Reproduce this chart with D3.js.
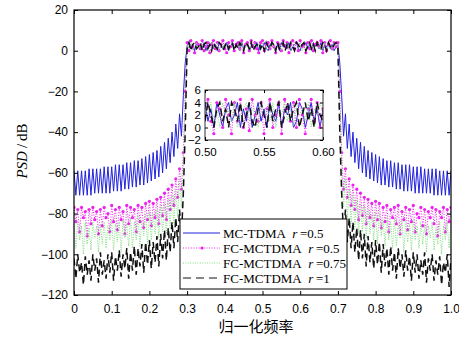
<!DOCTYPE html>
<html>
<head>
<meta charset="utf-8">
<script src="https://cdn.jsdelivr.net/npm/d3@7"></script>
<style>
  html, body { margin: 0; padding: 0; background: #fff; }
  svg { display: block; font-family: "Liberation Serif", "Times New Roman", serif; }
</style>
</head>
<body>
<svg id="chart" width="459" height="338"></svg>
<script>
// normalized frequency grid: 0 .. 1 sampled every 0.005 (201 points)
const freqStep = 0.005;
const xTicks = [0, 0.1, 0.2, 0.3, 0.4, 0.5, 0.6, 0.7, 0.8, 0.9, 1.0];
const xTickLabels = ["0", "0.1", "0.2", "0.3", "0.4", "0.5", "0.6", "0.7", "0.8", "0.9", "1.0"];
const yTicks = [20, 0, -20, -40, -60, -80, -100, -120];
const yTickLabels = ["20", "0", "\u221220", "\u221240", "\u221260", "\u221280", "\u2212100", "\u2212120"];

// zoomed inset: 0.50 .. 0.60 sampled every 0.0025 (41 points)
const insetStart = 0.5;
const insetStep = 0.0025;
const insetXTicks = [0.5, 0.55, 0.6];
const insetXTickLabels = ["0.50", "0.55", "0.60"];
const insetYTicks = [6, 4, 2, 0, -2];
const insetYTickLabels = ["6", "4", "2", "0", "\u22122"];

const legendNames = ["MC-TDMA", "FC-MCTDMA", "FC-MCTDMA", "FC-MCTDMA"];
const legendR = ["0.5", "0.5", "0.75", "1"];

// PSD (dB) of MC-TDMA r=0.5
const psdMc05 = [
  -59,-71,-59,-71,-59,-71,-59,-71,-58,-71,
  -58,-70,-58,-70,-58,-70,-57,-70,-57,-70,
  -57,-69,-56,-69,-56,-69,-56,-68,-55,-68,
  -55,-67,-54,-67,-54,-66,-53,-66,-52,-65,
  -51,-64,-50,-63,-49,-62,-47,-60,-45,-58,
  -43,-55,-40,-52,-36,-48,-31,-42,-22,-6,
  2,4,1,3,0,4,2,3,1,4, 0,3,2,4,1,3,0,4,2,1,
  3,4,0,2,4,1,3,2,0,4, 1,3,4,0,2,3,1,4,0,3,
  2,4,1,0,3,4,2,1,3,0, 4,2,3,1,4,0,2,3,4,1,
  0,3,2,4,1,3,0,4,2,3, 1,4,0,3,2,4,1,3,0,2, 3,
  -6,-22,-42,-31,-48,-36,-52,-40,-55,-43,-58,
  -45,-60,-47,-62,-49,-63,-50,-64,-51,-65,
  -52,-66,-53,-66,-54,-67,-54,-67,-55,-68,
  -55,-68,-56,-69,-56,-69,-56,-69,-57,-70,
  -57,-70,-57,-70,-58,-70,-58,-70,-58,-71,
  -58,-71,-59,-71,-59,-71,-59,-71,-59
];

// PSD (dB) of FC-MCTDMA r=0.5
const psdFc05 = [
  -77,-84,-78,-89,-77,-82,-79,-91,-78,-85,
  -77,-83,-79,-90,-78,-86,-77,-82,-80,-89,
  -76,-84,-78,-88,-77,-83,-79,-90,-76,-85,
  -77,-82,-78,-89,-76,-84,-77,-87,-75,-83,
  -74,-86,-75,-82,-73,-85,-72,-81,-70,-83,
  -68,-78,-66,-76,-63,-72,-58,-68,-50,-20,
  4,0,5,2,-1,4,3,1,5,0, 2,4,-1,3,5,1,4,0,3,5,
  1,-1,4,2,5,0,3,4,1,5, -1,3,4,0,5,2,4,1,-1,4,
  5,0,3,4,1,5,2,-1,4,3, 0,5,2,4,-1,3,5,1,4,0,
  5,2,3,-1,4,1,5,0,3,4, 2,5,-1,4,0,3,5,1,4,2, 4,
  -20,-50,-68,-58,-72,-63,-76,-66,-78,-68,-83,
  -70,-81,-72,-85,-73,-82,-75,-86,-74,-83,
  -75,-87,-77,-84,-76,-89,-78,-82,-77,-85,
  -76,-90,-79,-83,-77,-88,-78,-84,-76,-89,
  -80,-82,-77,-86,-78,-90,-79,-82,-77,-85,
  -78,-91,-79,-82,-77,-89,-78,-84,-77
];

// PSD (dB) of FC-MCTDMA r=0.75
const psdFc075 = [
  -85,-97,-84,-93,-86,-100,-84,-95,-87,-98,
  -84,-92,-86,-99,-85,-95,-84,-97,-86,-93,
  -83,-98,-85,-94,-84,-99,-83,-92,-85,-96,
  -82,-97,-84,-93,-81,-96,-83,-91,-80,-95,
  -79,-93,-80,-90,-78,-92,-76,-89,-75,-90,
  -73,-87,-71,-85,-68,-82,-63,-77,-55,-25,
  3,1,4,0,2,4,1,3,0,4, 2,0,3,4,1,2,4,0,3,1,
  4,2,0,3,4,1,2,3,0,4, 1,4,2,0,3,1,4,2,3,0,
  4,1,3,2,0,4,1,3,2,4, 0,3,1,4,2,0,3,4,1,2,
  4,0,2,3,1,4,0,3,2,4, 1,3,0,4,2,1,3,0,4,2, 3,
  -25,-55,-77,-63,-82,-68,-85,-71,-87,-73,-90,
  -75,-89,-76,-92,-78,-90,-80,-93,-79,-95,
  -80,-91,-83,-96,-81,-93,-84,-97,-82,-96,
  -85,-92,-83,-99,-84,-94,-85,-98,-83,-93,
  -86,-97,-84,-95,-85,-99,-86,-92,-84,-98,
  -87,-95,-84,-100,-86,-93,-84,-97,-85
];

// PSD (dB) of FC-MCTDMA r=1
const psdFc1 = [
  -102,-112,-100,-109,-104,-115,-101,-110,-103,-113,
  -100,-108,-102,-114,-99,-110,-103,-112,-100,-109,
  -99,-113,-101,-108,-98,-111,-100,-107,-97,-112,
  -99,-108,-96,-110,-97,-106,-95,-109,-94,-105,
  -93,-107,-94,-104,-91,-106,-90,-102,-88,-103,
  -87,-99,-84,-97,-82,-94,-78,-91,-70,-40,
  1,4,0,3,4,1,2,4,0,3, 4,1,3,0,4,2,1,4,3,0,
  2,4,1,3,4,0,3,1,4,2, 0,4,3,1,4,0,2,3,4,1,
  3,0,4,2,1,4,3,0,4,1, 2,4,0,3,1,4,2,0,4,3,
  1,3,4,0,2,4,1,3,0,4, 2,1,4,3,0,4,2,1,3,4, 1,
  -40,-70,-91,-78,-94,-82,-97,-84,-99,-87,-103,
  -88,-102,-90,-106,-91,-104,-94,-107,-93,-105,
  -94,-109,-95,-106,-97,-110,-96,-108,-99,-112,
  -97,-107,-100,-111,-98,-108,-101,-113,-99,-109,
  -100,-112,-103,-110,-99,-114,-102,-108,-100,-113,
  -103,-110,-101,-115,-104,-109,-100,-116,-102
];

// inset values (dB), 0.50 .. 0.60
const insetMc05 = [4,1,3,0,4,2,0,3,4,1, 2,4,0,3,1,4,0,2,4,1, 3,0,4,2,1,4,0,3,2,4, 0,1,4,3,0,2,4,1,3,0, 3];
const insetFc05 = [2,4.5,1,-1,4,3,0,4.5,2,-1, 4,1,4.5,0,3,-0.5,4.5,2,1,4, -1,3,4.5,0,2,4,-1,4.5,3,1, 4,0,4.5,2,-1,3,4.5,1,4,0, 3];
const insetFc075 = [3,2,4,1,3,0,4,2,3,1, 4,0,2,3,4,1,3,2,0,4, 2,3,1,4,0,3,2,4,1,3, 0,4,2,3,1,4,0,3,2,4, 2];
const insetFc1 = [1,4,2,0,3,4,1,3,0,4, 3,1,4,0,2,4,1,0,3,4, 2,0,4,1,3,4,0,2,4,1, 3,4,0,2,4,1,3,0,4,2, 1];

const styles = [
  {color: "#2222dd", width: 1, dash: null, marker: false},
  {color: "#ee22ee", width: 1, dash: "1,1.6", marker: true},
  {color: "#7fdc7f", width: 1, dash: "1,1.4", marker: false},
  {color: "#111111", width: 1.5, dash: "7,4", marker: false}
];
const mainSeries = [psdMc05, psdFc05, psdFc075, psdFc1];
const insetSeries = [insetMc05, insetFc05, insetFc075, insetFc1];

const svg = d3.select("#chart");
const plotLeft = 74, plotRight = 451, plotTop = 10, plotBottom = 295;

const x = d3.scaleLinear().domain([0, 1]).range([plotLeft, plotRight]);
const y = d3.scaleLinear().domain([-120, 20]).range([plotBottom, plotTop]);

svg.append("clipPath").attr("id", "plotClip")
  .append("rect").attr("x", plotLeft).attr("y", plotTop)
  .attr("width", plotRight - plotLeft).attr("height", plotBottom - plotTop);

// curves
const plot = svg.append("g").attr("clip-path", "url(#plotClip)");
mainSeries.forEach((vals, k) => {
  const st = styles[k];
  const line = d3.line().x((d, i) => x(i * freqStep)).y(d => y(d));
  plot.append("path")
    .attr("d", line(vals))
    .attr("fill", "none")
    .attr("stroke", st.color)
    .attr("stroke-width", st.width)
    .attr("stroke-dasharray", st.dash);
  if (st.marker) {
    plot.selectAll(null).data(vals).enter().append("circle")
      .attr("cx", (d, i) => x(i * freqStep))
      .attr("cy", d => y(d))
      .attr("r", 1.6)
      .attr("fill", st.color);
  }
});

// axes (ticks pointing inward, box on all four sides)
function styleAxis(g, size) {
  g.select(".domain").remove();
  g.selectAll("line").attr("stroke", "#000");
  g.selectAll("text").attr("fill", "#000").attr("font-size", size || 12);
}
svg.append("g").attr("transform", `translate(0,${plotBottom})`)
  .call(d3.axisBottom(x).tickValues(xTicks).tickSize(-4).tickPadding(9)
    .tickFormat((d, i) => xTickLabels[i]))
  .call(styleAxis);
svg.append("g").attr("transform", `translate(0,${plotTop})`)
  .call(d3.axisTop(x).tickValues(xTicks).tickSize(-4).tickFormat(""))
  .call(styleAxis);
svg.append("g").attr("transform", `translate(${plotLeft},0)`)
  .call(d3.axisLeft(y).tickValues(yTicks).tickSize(-4).tickPadding(6)
    .tickFormat((d, i) => yTickLabels[i]))
  .call(styleAxis);
svg.append("g").attr("transform", `translate(${plotRight},0)`)
  .call(d3.axisRight(y).tickValues(yTicks).tickSize(-4).tickFormat(""))
  .call(styleAxis);
svg.append("rect").attr("x", plotLeft).attr("y", plotTop)
  .attr("width", plotRight - plotLeft).attr("height", plotBottom - plotTop)
  .attr("fill", "none").attr("stroke", "#000").attr("stroke-width", 1.2);

// axis titles
svg.append("text")
  .attr("x", 256).attr("y", 332)
  .attr("text-anchor", "middle")
  .attr("font-family", "'Noto Sans CJK SC', sans-serif")
  .attr("font-size", 15)
  .text("归一化频率");
const yTitle = svg.append("text")
  .attr("transform", "translate(27,151) rotate(-90)")
  .attr("text-anchor", "middle")
  .attr("font-size", 15);
yTitle.append("tspan").attr("font-style", "italic").text("PSD");
yTitle.append("tspan").text("\u2009/\u2009dB");

// inset
const ix = d3.scaleLinear().domain([0.5, 0.6]).range([205, 323]);
const iy = d3.scaleLinear().domain([-2, 6]).range([140, 90]);
svg.append("rect").attr("x", 205).attr("y", 90).attr("width", 118).attr("height", 50)
  .attr("fill", "#fff");
svg.append("clipPath").attr("id", "insetClip")
  .append("rect").attr("x", 205).attr("y", 90).attr("width", 118).attr("height", 50);
const inset = svg.append("g").attr("clip-path", "url(#insetClip)");
insetSeries.forEach((vals, k) => {
  const st = styles[k];
  const line = d3.line().x((d, i) => ix(insetStart + i * insetStep)).y(d => iy(d));
  inset.append("path")
    .attr("d", line(vals))
    .attr("fill", "none")
    .attr("stroke", st.color)
    .attr("stroke-width", st.width)
    .attr("stroke-dasharray", st.dash);
  if (st.marker) {
    inset.selectAll(null).data(vals).enter().append("circle")
      .attr("cx", (d, i) => ix(insetStart + i * insetStep))
      .attr("cy", d => iy(d))
      .attr("r", 1.6)
      .attr("fill", st.color);
  }
});
svg.append("g").attr("transform", "translate(0,140)")
  .call(d3.axisBottom(ix).tickValues(insetXTicks).tickSize(-3).tickPadding(8)
    .tickFormat((d, i) => insetXTickLabels[i]))
  .call(styleAxis, 11.5);
svg.append("g").attr("transform", "translate(0,90)")
  .call(d3.axisTop(ix).tickValues(insetXTicks).tickSize(-3).tickFormat(""))
  .call(styleAxis);
svg.append("g").attr("transform", "translate(205,0)")
  .call(d3.axisLeft(iy).tickValues(insetYTicks).tickSize(-3).tickPadding(4)
    .tickFormat((d, i) => insetYTickLabels[i]))
  .call(styleAxis, 11.5);
svg.append("g").attr("transform", "translate(323,0)")
  .call(d3.axisRight(iy).tickValues(insetYTicks).tickSize(-3).tickFormat(""))
  .call(styleAxis);
svg.append("rect").attr("x", 205).attr("y", 90).attr("width", 118).attr("height", 50)
  .attr("fill", "none").attr("stroke", "#000").attr("stroke-width", 0.8);

// legend
const legend = svg.append("g");
legend.append("rect").attr("x", 180).attr("y", 219).attr("width", 167).attr("height", 70)
  .attr("fill", "#fff").attr("stroke", "#000").attr("stroke-width", 1);
legendNames.forEach((name, k) => {
  const st = styles[k];
  const cy = 233 + k * 15;
  legend.append("line")
    .attr("x1", 183).attr("x2", 220).attr("y1", cy).attr("y2", cy)
    .attr("stroke", st.color).attr("stroke-width", k === 3 ? 1.2 : st.width)
    .attr("stroke-dasharray", k === 3 ? "8,5" : st.dash);
  if (st.marker) {
    legend.append("circle").attr("cx", 202).attr("cy", cy).attr("r", 1.6).attr("fill", st.color);
  }
  const t = legend.append("text").attr("x", 223).attr("y", cy + 4.5).attr("font-size", 13);
  t.append("tspan").text(name + "\u00a0\u00a0");
  t.append("tspan").attr("font-style", "italic").text("r");
  t.append("tspan").text("\u2009=" + legendR[k]);
});
</script>
</body>
</html>
